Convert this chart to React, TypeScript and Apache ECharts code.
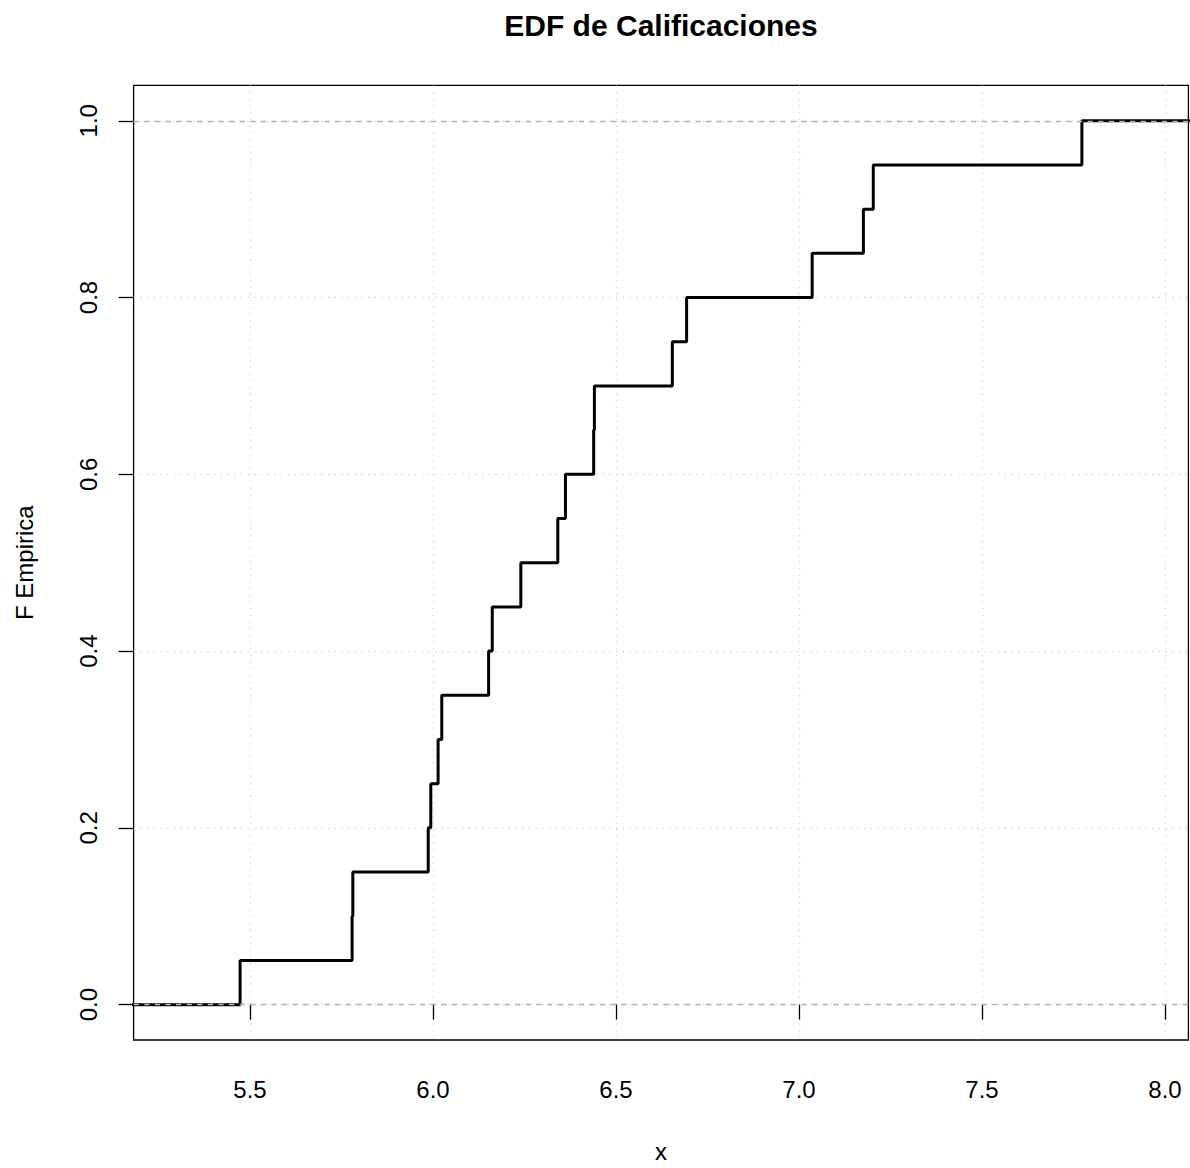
import React, { useEffect, useRef } from "react";
import * as echarts from "echarts";

// Sorted observations (Calificaciones) read from the step positions
const calificaciones: number[] = [
  5.473, 5.779, 5.781, 5.987, 5.994, 6.014, 6.024, 6.152, 6.162, 6.240,
  6.341, 6.362, 6.439, 6.441, 6.654, 6.693, 7.036, 7.176, 7.203, 7.773,
];
// Empirical F after each observation
const fEmpirica: number[] = [
  0.05, 0.10, 0.15, 0.20, 0.25, 0.30, 0.35, 0.40, 0.45, 0.50,
  0.55, 0.60, 0.65, 0.70, 0.75, 0.80, 0.85, 0.90, 0.95, 1.00,
];
// Tails of the step function (extend beyond the plotting region)
const tailLeft: [number, number] = [4.9, 0];
const tailRight: [number, number] = [8.4, 1];

const xTicks: number[] = [5.5, 6.0, 6.5, 7.0, 7.5, 8.0];
const yTicks: number[] = [0, 0.2, 0.4, 0.6, 0.8, 1.0];
const refLines: number[] = [0, 1];

const xMin = 5.182;
const xMax = 8.064;
const yMin = -0.04;
const yMax = 1.04;

const FONT = '"Liberation Sans", Arial, Helvetica, sans-serif';

export default function App() {
  const ref = useRef<HTMLDivElement>(null);

  useEffect(() => {
    if (!ref.current) return;
    const chart = echarts.init(ref.current, undefined, { renderer: "svg" });

    const stepData: [number, number][] = [
      tailLeft,
      ...calificaciones.map((x, i) => [x, fEmpirica[i]] as [number, number]),
      tailRight,
    ];

    const gridLine = {
      show: true,
      lineStyle: { color: "#d3d3d3", width: 1.3, type: [1.3, 5.4] as any },
    };

    chart.setOption({
      animation: false,
      backgroundColor: "#ffffff",
      title: {
        text: "EDF de Calificaciones",
        left: 661,
        textAlign: "center",
        top: 10,
        padding: 0,
        textStyle: {
          fontFamily: FONT,
          fontWeight: "bold",
          fontSize: 30,
          color: "#000",
        },
      },
      grid: {
        left: 133.6,
        width: 1054.8,
        top: 85.4,
        height: 961.2,
        show: true,
        borderColor: "#000",
        borderWidth: 1.3,
        backgroundColor: "transparent",
        containLabel: false,
      },
      xAxis: {
        type: "value",
        min: xMin,
        max: xMax,
        name: "x",
        nameLocation: "middle",
        nameGap: 99,
        nameTextStyle: { fontFamily: FONT, fontSize: 24, color: "#000" },
        axisLine: { show: false },
        axisTick: {
          show: true,
          inside: false,
          length: 15,
          customValues: xTicks,
          lineStyle: { color: "#000", width: 1.3 },
        },
        axisLabel: {
          customValues: xTicks,
          margin: 37,
          fontFamily: FONT,
          fontSize: 24,
          color: "#000",
          formatter: (v: number) => v.toFixed(1),
        },
        splitLine: gridLine,
      },
      yAxis: {
        type: "value",
        min: yMin,
        max: yMax,
        name: "F Empirica",
        nameLocation: "middle",
        nameRotate: 90,
        nameGap: 97,
        nameTextStyle: { fontFamily: FONT, fontSize: 24, color: "#000" },
        axisLine: { show: false },
        axisTick: {
          show: true,
          inside: false,
          length: 15,
          customValues: yTicks,
          lineStyle: { color: "#000", width: 1.3 },
        },
        axisLabel: {
          customValues: yTicks,
          rotate: 90,
          margin: 33,
          fontFamily: FONT,
          fontSize: 24,
          color: "#000",
          formatter: (v: number) => v.toFixed(1),
        },
        splitLine: gridLine,
      },
      series: [
        {
          type: "line",
          name: "ECDF",
          data: stepData,
          step: "end",
          showSymbol: false,
          symbol: "none",
          clip: true,
          z: 3,
          lineStyle: { color: "#000", width: 3 },
          markLine: {
            silent: true,
            symbol: ["none", "none"],
            z: 6,
            label: { show: false },
            lineStyle: { color: "#b3b3b3", width: 1.3, type: [5.3, 5.3] as any },
            data: refLines.map((v) => ({ yAxis: v })),
          },
        },
      ],
    });

    return () => chart.dispose();
  }, []);

  return (
    <div
      ref={ref}
      style={{ position: "absolute", left: 0, top: 0, width: 1190, height: 1168 }}
    />
  );
}
